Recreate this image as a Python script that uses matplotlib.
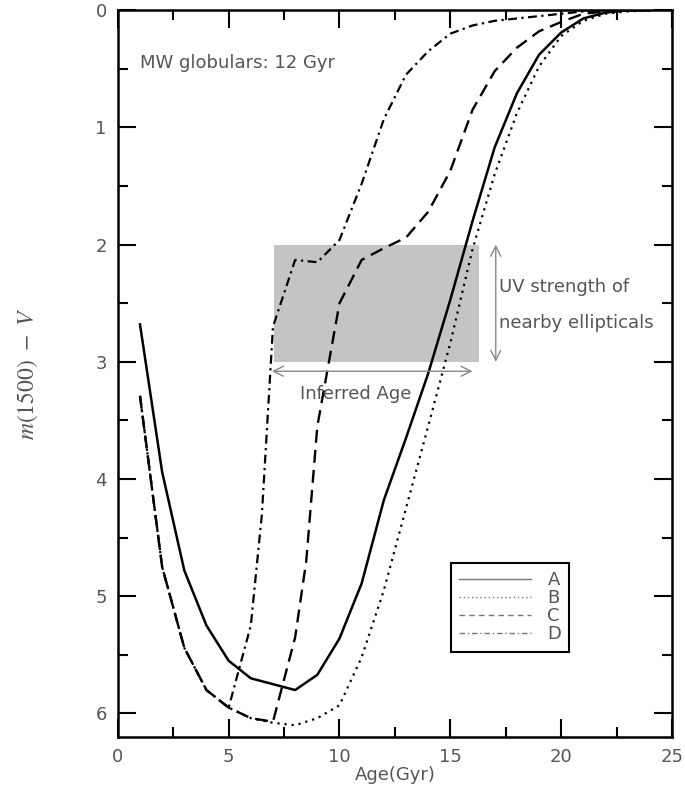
import matplotlib
matplotlib.use("Agg")
import matplotlib.pyplot as plt
from matplotlib.ticker import MultipleLocator
from matplotlib.lines import Line2D

plt.rcParams["mathtext.fontset"] = "stix"

# ---------------- data ----------------
age_A = [1, 2, 3, 4, 5, 6, 7, 8, 9, 10, 11, 12, 13, 14, 15, 16, 17, 18, 19, 20, 21, 22, 23, 24]
col_A = [2.68, 3.94, 4.78, 5.25, 5.55, 5.70, 5.75, 5.80, 5.67, 5.36, 4.89, 4.18, 3.65, 3.10,
         2.47, 1.80, 1.17, 0.71, 0.38, 0.19, 0.07, 0.02, 0.0, 0.0]

age_B = [1, 2, 3, 4, 5, 6, 7, 8, 9, 10, 11, 12, 13, 14, 15, 16, 17, 18, 19, 20, 21, 22, 23, 24]
col_B = [3.29, 4.75, 5.44, 5.80, 5.95, 6.04, 6.08, 6.10, 6.04, 5.93, 5.52, 4.95, 4.25, 3.55,
         2.84, 2.04, 1.40, 0.88, 0.48, 0.22, 0.09, 0.03, 0.01, 0.0]

age_C = [1, 2, 3, 4, 5, 6, 7, 8, 8.5, 9, 10, 11, 12, 13, 14, 15, 16, 17, 18, 19, 20, 21, 22, 23, 24]
col_C = [3.29, 4.75, 5.44, 5.80, 5.95, 6.04, 6.07, 5.35, 4.70, 3.55, 2.50, 2.13, 2.03, 1.94,
         1.72, 1.37, 0.85, 0.52, 0.32, 0.18, 0.10, 0.03, 0.01, 0.0, 0.0]

age_D = [1, 2, 3, 4, 5, 6, 6.5, 7, 8, 9, 10, 11, 12, 13, 14, 15, 16, 17, 18, 19, 20, 21, 22, 23, 24]
col_D = [3.29, 4.75, 5.44, 5.80, 5.95, 5.25, 4.30, 2.70, 2.13, 2.15, 1.96, 1.48, 0.93, 0.55,
         0.35, 0.20, 0.13, 0.09, 0.07, 0.05, 0.03, 0.01, 0.0, 0.0, 0.0]

labels = ["A", "B", "C", "D"]

box_age = (7.05, 16.3)
box_col = (2.0, 3.0)

# ---------------- figure ----------------
fig = plt.figure(figsize=(6.85, 7.89), dpi=100)
ax = fig.add_axes([0.172, 0.066, 0.809, 0.921])

gray_txt = "#555555"

ax.fill_between(box_age, box_col[0], box_col[1], color="#c4c4c4", lw=0, zorder=1)

ax.plot(age_A, col_A, color="black", lw=1.8, ls="-", zorder=3)
ax.plot(age_B, col_B, color="black", lw=1.6, ls=(0, (1, 2.2)), zorder=3)
ax.plot(age_C, col_C, color="black", lw=1.7, ls=(0, (5.5, 3)), zorder=3)
ax.plot(age_D, col_D, color="black", lw=1.6, ls=(0, (4, 2, 1, 2)), zorder=3)

# annotations
ax.annotate("", xy=(17.05, 2.0), xytext=(17.05, 3.0),
            arrowprops=dict(arrowstyle="<->", color="#888888", lw=1.0,
                            mutation_scale=18, shrinkA=0, shrinkB=0))
ax.annotate("", xy=(6.95, 3.08), xytext=(16.0, 3.08),
            arrowprops=dict(arrowstyle="<->", color="#888888", lw=1.0,
                            mutation_scale=18, shrinkA=0, shrinkB=0))
ax.text(17.2, 2.36, "UV strength of", fontsize=13, color=gray_txt, va="center", ha="left")
ax.text(17.2, 2.67, "nearby ellipticals", fontsize=13, color=gray_txt, va="center", ha="left")
ax.text(10.75, 3.27, "Inferred Age", fontsize=13, color=gray_txt, va="center", ha="center")
ax.text(1.0, 0.45, "MW globulars: 12 Gyr", fontsize=13, color=gray_txt, va="center", ha="left")

# legend
handles = [
    Line2D([], [], color="#777777", lw=1.0, ls="-"),
    Line2D([], [], color="#777777", lw=1.0, ls=(0, (1, 2))),
    Line2D([], [], color="#777777", lw=1.0, ls=(0, (4, 3))),
    Line2D([], [], color="#777777", lw=1.0, ls=(0, (4, 2, 1, 2))),
]
leg = ax.legend(handles, labels, loc="upper left", bbox_to_anchor=(0.601, 0.239),
                fontsize=13, handlelength=4.0, handletextpad=0.9, labelspacing=0.0,
                borderpad=0.45, borderaxespad=0, fancybox=False, framealpha=1,
                edgecolor="black")
leg.get_frame().set_linewidth(1.5)
for t in leg.get_texts():
    t.set_color(gray_txt)

# axes
ax.set_xlim(0, 25)
ax.set_ylim(6.2, 0)
ax.xaxis.set_major_locator(MultipleLocator(5))
ax.xaxis.set_minor_locator(MultipleLocator(2.5))
ax.yaxis.set_major_locator(MultipleLocator(1))
ax.yaxis.set_minor_locator(MultipleLocator(0.5))
ax.tick_params(which="both", direction="in", top=True, right=True, width=1.5,
               labelsize=13, labelcolor=gray_txt, pad=8)
ax.tick_params(which="major", length=13)
ax.tick_params(which="minor", length=7)
for s in ax.spines.values():
    s.set_linewidth(1.8)

ax.set_xlabel("Age(Gyr)", fontsize=13, color=gray_txt, labelpad=0)
ax.set_ylabel(r"$m(1500)\ -\ V$", fontsize=17, color=gray_txt, labelpad=40)

fig.savefig("out.png", dpi=100)
